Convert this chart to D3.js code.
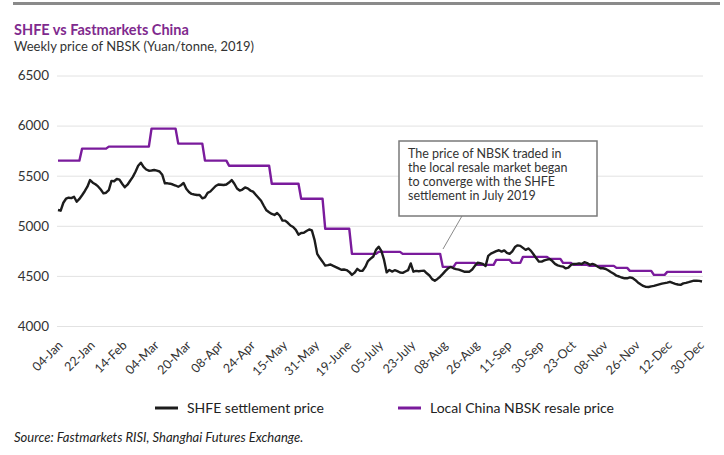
<!DOCTYPE html>
<html>
<head>
<meta charset="utf-8">
<script src="https://cdn.jsdelivr.net/npm/d3@7"></script>
<style>
  html, body { margin: 0; padding: 0; background: #fff; }
  svg { display: block; font-family: Lato, "Open Sans", sans-serif; }
</style>
</head>
<body>
<svg id="chart" width="724" height="455"></svg>
<script>
// ---------------- DATA ----------------
const title = "SHFE vs Fastmarkets China";
const subtitle = "Weekly price of NBSK (Yuan/tonne, 2019)";
const source = "Source: Fastmarkets RISI, Shanghai Futures Exchange.";
const seriesNames = ["SHFE settlement price", "Local China NBSK resale price"];
const annotationLines = [
  "The price of NBSK traded in",
  "the local resale market began",
  "to converge with the SHFE",
  "settlement in July 2019"
];

// x-axis tick labels (one every 12 trading days, starting 04-Jan)
const tickLabels = ["04-Jan","22-Jan","14-Feb","04-Mar","20-Mar","08-Apr","24-Apr","15-May","31-May","19-June",
  "05-July","23-July","08-Aug","26-Aug","11-Sep","30-Sep","23-Oct","08-Nov","26-Nov","12-Dec","30-Dec"];
const tickEvery = 12;

const yTicks = [4000, 4500, 5000, 5500, 6000, 6500];

// SHFE settlement price, one value per trading day
const shfe = [
  5158,5151,5230,5270,5280,5276,5290,5240,5268,5305,
  5345,5390,5457,5430,5414,5393,5362,5324,5330,5355,
  5448,5445,5467,5460,5420,5385,5410,5450,5488,5540,
  5600,5630,5588,5562,5550,5552,5557,5550,5542,5510,
  5424,5424,5420,5412,5402,5390,5405,5428,5370,5338,
  5318,5312,5307,5307,5274,5284,5328,5342,5370,5397,
  5412,5410,5407,5412,5432,5457,5420,5372,5352,5362,
  5382,5374,5352,5341,5310,5280,5250,5200,5155,5135,
  5118,5108,5128,5100,5052,5052,5030,5003,4988,4960,
  4912,4928,4931,4948,4963,4955,4860,4720,4678,4642,
  4603,4607,4614,4600,4588,4575,4561,4564,4558,4540,
  4510,4532,4570,4550,4552,4590,4648,4672,4694,4760,
  4791,4750,4662,4535,4560,4543,4557,4547,4534,4530,
  4544,4557,4625,4542,4550,4546,4550,4552,4526,4504,
  4468,4452,4470,4492,4520,4550,4576,4589,4576,4568,
  4562,4552,4542,4542,4542,4564,4600,4631,4626,4620,
  4598,4700,4722,4734,4747,4756,4742,4755,4730,4720,
  4745,4788,4805,4800,4780,4760,4774,4750,4714,4675,
  4642,4642,4655,4663,4668,4648,4620,4605,4598,4593,
  4575,4582,4610,4619,4620,4625,4619,4637,4628,4611,
  4620,4610,4592,4576,4576,4569,4554,4537,4522,4502,
  4494,4484,4476,4476,4485,4479,4460,4435,4417,4400,
  4390,4389,4395,4400,4408,4416,4423,4428,4433,4441,
  4430,4421,4414,4411,4425,4430,4437,4445,4452,4452,
  4450,4444
];

// Local China NBSK resale price: trading-day index where the weekly price changed, and the new price
const resaleChangeDay = [0, 9, 19, 35, 45, 55, 64, 80, 91, 100, 110, 120, 129, 144, 149, 157, 164, 170, 174, 184, 189, 193, 199, 209, 214, 223, 228];
const resalePrice     = [5650, 5770, 5790, 5970, 5820, 5650, 5600, 5420, 5270, 4970, 4720, 4740, 4720, 4590, 4630, 4610, 4660, 4630, 4690, 4670, 4630, 4610, 4600, 4580, 4550, 4510, 4540];

// ---------------- BUILD ----------------
const nDays = shfe.length;
const resale = [];
for (let i = 0; i < nDays; i++) {
  let k = 0;
  for (let j = 0; j < resaleChangeDay.length; j++) if (resaleChangeDay[j] <= i) k = j;
  resale.push(resalePrice[k]);
}

const svg = d3.select("#chart");
const plotLeft = 57, plotRight = 703;
const x = d3.scaleLinear().domain([0, nDays - 1]).range([58, 702]);
const y = d3.scaleLinear().domain([4000, 6500]).range([326, 75.5]);

// top grey bar
svg.append("rect").attr("x", 13).attr("y", 2).attr("width", 707).attr("height", 3).attr("fill", "#8a8a8a");

// titles
svg.append("text").attr("x", 14).attr("y", 35).text(title)
  .attr("font-size", 14.5).attr("font-weight", 700).attr("fill", "#7f2a8e");
svg.append("text").attr("x", 14).attr("y", 51).text(subtitle)
  .attr("font-size", 13).attr("fill", "#333");

// y axis with gridlines
const yAxis = svg.append("g").attr("transform", `translate(${plotLeft},0)`)
  .call(d3.axisLeft(y).tickValues(yTicks).tickSize(-(plotRight - plotLeft)).tickPadding(8).tickFormat(d3.format("d")));
yAxis.select(".domain").remove();
yAxis.selectAll(".tick line").attr("stroke", "#e2e2e2").attr("stroke-width", 1);
yAxis.selectAll(".tick text").attr("font-size", 13.5).attr("fill", "#333").attr("font-family", "Lato, sans-serif");

// x axis labels
const xTickVals = tickLabels.map((d, i) => i * tickEvery);
const xAxis = svg.append("g").attr("transform", `translate(0,326)`)
  .call(d3.axisBottom(x).tickValues(xTickVals).tickSize(0).tickFormat((d, i) => tickLabels[i]));
xAxis.select(".domain").remove();
xAxis.selectAll(".tick text")
  .attr("font-size", 12.5).attr("fill", "#333").attr("font-family", "Lato, sans-serif")
  .attr("text-anchor", "end")
  .attr("y", 0).attr("dy", 0)
  .attr("transform", "translate(5,20) rotate(-45)");

// lines
const line = d3.line().x((d, i) => x(i)).y(d => y(d));
svg.append("path").datum(resale).attr("d", line)
  .attr("fill", "none").attr("stroke", "#7a1b9c").attr("stroke-width", 2.4).attr("stroke-linejoin", "round");
svg.append("path").datum(shfe).attr("d", line)
  .attr("fill", "none").attr("stroke", "#1c1c1c").attr("stroke-width", 2.4).attr("stroke-linejoin", "round");

// annotation
svg.append("line").attr("x1", 462).attr("y1", 216).attr("x2", 443).attr("y2", 249)
  .attr("stroke", "#8a8a8a").attr("stroke-width", 1);
svg.append("rect").attr("x", 399).attr("y", 141).attr("width", 198).attr("height", 75)
  .attr("fill", "#fff").attr("stroke", "#7a7a7a").attr("stroke-width", 1.5);
svg.append("g").selectAll("text").data(annotationLines).join("text")
  .attr("x", 408).attr("y", (d, i) => 158 + i * 14).text(d => d)
  .attr("font-size", 12.5).attr("fill", "#333");

// legend
const legendItems = [
  { name: seriesNames[0], color: "#1c1c1c", x0: 155 },
  { name: seriesNames[1], color: "#7a1b9c", x0: 398 }
];
const lg = svg.append("g").selectAll("g").data(legendItems).join("g");
lg.append("line").attr("x1", d => d.x0).attr("x2", d => d.x0 + 23).attr("y1", 408).attr("y2", 408)
  .attr("stroke", d => d.color).attr("stroke-width", 3);
lg.append("text").attr("x", d => d.x0 + 32).attr("y", 413).text(d => d.name)
  .attr("font-size", 14).attr("fill", "#222");

// source
svg.append("text").attr("x", 14).attr("y", 442).text(source)
  .attr("font-size", 13).attr("font-style", "italic").attr("fill", "#222");
</script>
</body>
</html>
